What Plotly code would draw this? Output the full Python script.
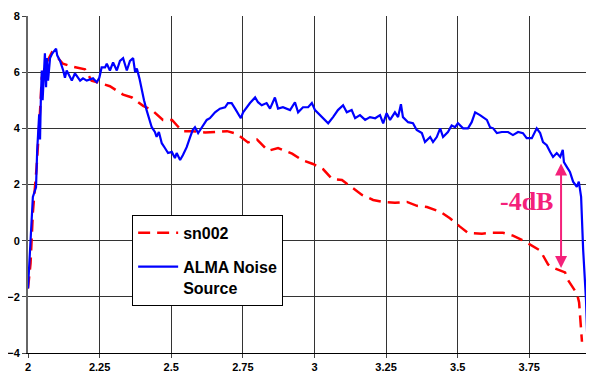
import plotly.graph_objects as go

# ALMA Noise Source (blue solid)
alma_x = [2.000, 2.013, 2.017, 2.028, 2.032, 2.039, 2.042, 2.045, 2.048, 2.051,
          2.056, 2.059, 2.063, 2.066, 2.070, 2.077, 2.085, 2.094, 2.098, 2.102,
          2.112, 2.123, 2.129, 2.135, 2.147, 2.153, 2.164, 2.182, 2.192, 2.205,
          2.227, 2.240, 2.249, 2.257, 2.269, 2.275, 2.286, 2.297, 2.310, 2.321,
          2.332, 2.345, 2.356, 2.367, 2.374, 2.380, 2.389, 2.397, 2.405, 2.414,
          2.426, 2.432, 2.443, 2.449, 2.457, 2.467, 2.478, 2.489, 2.502, 2.513,
          2.519, 2.531, 2.541, 2.554, 2.566, 2.575, 2.583, 2.594, 2.601, 2.611,
          2.624, 2.635, 2.653, 2.670, 2.688, 2.698, 2.711, 2.723, 2.733, 2.743,
          2.751, 2.764, 2.775, 2.793, 2.803, 2.816, 2.833, 2.845, 2.862, 2.873,
          2.890, 2.915, 2.932, 2.943, 2.960, 2.978, 2.991, 3.002, 3.020, 3.037,
          3.048, 3.065, 3.082, 3.100, 3.113, 3.130, 3.142, 3.159, 3.177, 3.194,
          3.212, 3.229, 3.240, 3.252, 3.264, 3.281, 3.292, 3.302, 3.309, 3.327,
          3.344, 3.357, 3.375, 3.386, 3.404, 3.414, 3.427, 3.439, 3.449, 3.466,
          3.479, 3.491, 3.501, 3.519, 3.536, 3.549, 3.561, 3.578, 3.589, 3.602,
          3.613, 3.624, 3.637, 3.654, 3.676, 3.693, 3.711, 3.728, 3.741, 3.759,
          3.776, 3.788, 3.798, 3.811, 3.823, 3.833, 3.846, 3.858, 3.867, 3.871,
          3.881, 3.892, 3.903, 3.916, 3.923, 3.931, 3.938, 3.948, 3.953]
alma_y = [-1.7, 1.0, 1.56, 1.9, 3.2, 4.5, 3.6, 5.1, 6.06, 5.0,
          6.0, 6.67, 5.46, 6.5, 5.7, 6.5, 6.67, 6.8, 6.84, 6.6,
          6.4, 6.06, 5.8, 6.06, 5.8, 5.7, 5.96, 5.7, 5.78, 5.7,
          5.78, 5.64, 5.8, 6.17, 6.17, 6.3, 6.06, 6.35, 6.06, 6.4,
          6.5, 6.06, 6.4, 6.5, 6.0, 6.13, 5.78, 5.35, 5.0, 4.65,
          4.18, 4.04, 3.87, 3.7, 3.87, 3.47, 3.3, 3.12, 3.16, 2.94,
          3.12, 2.87, 3.05, 3.33, 3.69, 3.94, 4.04, 3.83, 3.94, 4.1,
          4.3, 4.36, 4.57, 4.7, 4.75, 4.9, 4.9, 4.7, 4.54, 4.36,
          4.57, 4.75, 4.9, 5.1, 4.93, 4.82, 4.9, 4.7, 5.1, 4.7,
          4.75, 4.65, 4.93, 4.57, 4.75, 4.75, 4.9, 4.65, 4.47, 4.3,
          4.18, 4.4, 4.65, 4.82, 4.57, 4.65, 4.36, 4.47, 4.3, 4.4,
          4.36, 4.47, 4.18, 4.54, 4.3, 4.57, 4.4, 4.86, 4.4, 4.22,
          4.18, 3.94, 3.83, 3.51, 3.69, 3.51, 3.69, 4.0, 3.69, 3.87,
          4.1, 4.04, 4.18, 4.0, 4.0, 4.22, 4.57, 4.47, 4.4, 4.3,
          4.04, 4.0, 3.83, 3.87, 3.87, 3.76, 3.87, 3.83, 3.65, 3.65,
          4.0, 3.83, 3.51, 3.4, 3.16, 2.98, 3.12, 2.98, 3.23, 2.8,
          2.63, 2.45, 2.1, 1.92, 2.1, 1.56, -0.3, -2.1, -3.6]

# sn002 (red dashed)
sn_x = [2.000, 2.009, 2.017, 2.030, 2.042, 2.048, 2.063, 2.083, 2.105, 2.122,
        2.153, 2.199, 2.222, 2.251, 2.286, 2.332, 2.363, 2.402, 2.433, 2.471,
        2.503, 2.538, 2.573, 2.618, 2.670, 2.695, 2.730, 2.768, 2.800, 2.838,
        2.873, 2.922, 2.957, 2.995, 3.030, 3.061, 3.096, 3.131, 3.166, 3.205,
        3.240, 3.281, 3.323, 3.358, 3.393, 3.439, 3.473, 3.508, 3.536, 3.585,
        3.620, 3.658, 3.693, 3.735, 3.763, 3.788, 3.816, 3.830, 3.875, 3.885,
        3.917, 3.924, 3.934]
sn_y = [-1.7, -0.8, 1.0, 2.6, 4.6, 5.8, 6.3, 6.7, 6.5, 6.3,
        6.2, 6.1, 5.7, 5.6, 5.5, 5.2, 5.1, 4.8, 4.65, 4.3,
        4.3, 3.9, 3.9, 3.85, 3.9, 3.9, 3.8, 3.5, 3.6, 3.2,
        3.3, 3.1, 2.87, 2.73, 2.55, 2.2, 2.16, 1.88, 1.63, 1.45,
        1.38, 1.35, 1.38, 1.24, 1.2, 1.03, 0.8, 0.5, 0.28, 0.25,
        0.28, 0.28, 0.18, -0.03, -0.2, -0.35, -0.85, -0.95, -1.13, -1.4,
        -1.9, -2.2, -3.6]

x_ticks = [2, 2.25, 2.5, 2.75, 3, 3.25, 3.5, 3.75]
x_labels = ["2", "2.25", "2.5", "2.75", "3", "3.25", "3.5", "3.75"]
y_ticks = [-4, -2, 0, 2, 4, 6, 8]

arrow_x = 3.861
arrow_top = 2.8
arrow_bottom = -0.97

pink = "#F4217A"

fig = go.Figure()

fig.add_trace(go.Scatter(
    x=sn_x, y=sn_y, mode="lines", name="<b>sn002</b>",
    line=dict(color="#FF0000", width=2.5, dash="12px,7px"),
    legendgroup="a"
))
fig.add_trace(go.Scatter(
    x=alma_x, y=alma_y, mode="lines", name="<b>ALMA Noise<br>Source</b>",
    line=dict(color="#0000FF", width=2.2),
    legendgroup="b"
))

# double-headed arrow marking the 4 dB gap
fig.add_annotation(
    x=arrow_x, y=arrow_bottom, ax=arrow_x, ay=arrow_top,
    xref="x", yref="y", axref="x", ayref="y",
    text="", showarrow=True, arrowside="end+start",
    arrowhead=2, arrowsize=1.2, arrowwidth=2, arrowcolor=pink
)
fig.add_annotation(
    x=3.742, y=1.38, xref="x", yref="y", text="<b>-4dB</b>", showarrow=False,
    font=dict(family="Liberation Serif", size=26, color=pink)
)

fig.update_xaxes(
    range=[2, 3.976], tickvals=x_ticks, ticktext=x_labels,
    showgrid=True, gridcolor="#333333", gridwidth=1,
    showline=True, linecolor="#000000", linewidth=1,
    ticks="outside", ticklen=4, tickcolor="#444444",
    tickfont=dict(family="Liberation Sans", size=11, color="#000000", weight="bold"),
    zeroline=False
)
fig.update_yaxes(
    range=[-4, 8], tickvals=y_ticks,
    showgrid=True, gridcolor="#333333", gridwidth=1,
    showline=True, linecolor="#666666", linewidth=2,
    ticks="outside", ticklen=4, tickcolor="#444444",
    tickfont=dict(family="Liberation Sans", size=11, color="#000000", weight="bold"),
    zeroline=False
)

# the page body adds an 8px offset, so the figure is sized to fit the window
fig.update_layout(
    width=586, height=365,
    margin=dict(l=20, r=0, t=8, b=20),
    plot_bgcolor="white", paper_bgcolor="white",
    legend=dict(
        x=0.184, y=0.41, xanchor="left", yanchor="top",
        bgcolor="white", bordercolor="#000000", borderwidth=1,
        font=dict(family="Liberation Sans", size=16, color="#000000"),
        itemwidth=40, tracegroupgap=10, valign="top"
    ),
    showlegend=True
)

fig.write_html("out.html")
